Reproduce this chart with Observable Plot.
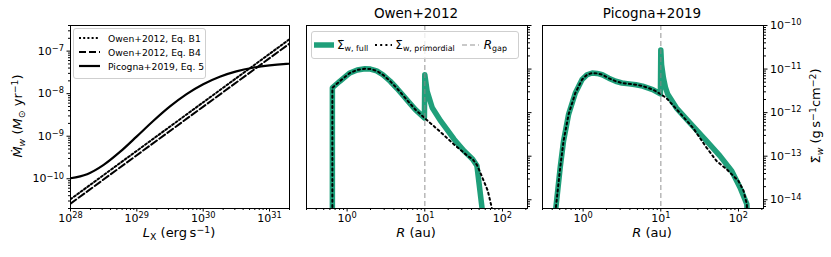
<!DOCTYPE html>
<html><head><meta charset="utf-8">
<script src="https://cdn.jsdelivr.net/npm/d3@7"></script>
<script src="https://cdn.jsdelivr.net/npm/@observablehq/plot@0.6"></script>
<style>
body{margin:0;background:#fff;}
#c{position:relative;width:831px;height:257px;font-family:"DejaVu Sans",sans-serif;color:#000;overflow:hidden;}
.p{position:absolute;top:0;}
.lbl{position:absolute;white-space:nowrap;font-size:13px;transform:translate(-50%,-50%);}
.rot{transform:translate(-50%,-50%) rotate(-90deg);}
.sub{font-size:72%;position:relative;top:0.3em;}
.sup{font-size:72%;position:relative;top:-0.45em;}
.leg{position:absolute;background:rgba(255,255,255,0.8);border:1px solid #cfcfcf;border-radius:3px;box-sizing:border-box;font-size:9.2px;}
.row{display:flex;align-items:center;white-space:nowrap;}
.row svg{flex:none;}
</style></head><body><div id="c"></div>
<script>
// ---------- data: panel 1 (mass-loss rate vs X-ray luminosity) ----------
const lxOwen = [1e28, 2e31];
const mdotOwenB1 = [3.3e-11, 1.9e-7];
const mdotOwenB4 = [2.6e-11, 1.5e-7];
const lxPicogna = [1e28, 1.78e28, 3.16e28, 5.62e28, 1e29, 1.78e29, 3.16e29, 5.62e29, 1e30, 1.78e30, 3.16e30, 5.62e30, 1e31, 1.78e31, 2e31];
const mdotPicogna = [1.03e-10, 1.28e-10, 2.12e-10, 4.33e-10, 9.93e-10, 2.31e-9, 5.02e-9, 9.77e-9, 1.67e-8, 2.51e-8, 3.35e-8, 4.07e-8, 4.62e-8, 5.0e-8, 5.06e-8];

// ---------- data: panel 2 (Owen+2012 surface mass-loss profile) ----------
const rOwenFull = [0.646, 0.646, 0.804, 1.084, 1.349, 1.698, 1.995, 2.399, 2.884, 3.589, 4.365, 5.333, 6.31, 7.568, 9.886, 10, 10.72, 12.47, 16.0, 23.8, 32.1, 41.3, 46.9, 50.1, 54.5, 56.2];
const sOwenFull = [1e-15, 3.72e-12, 5.25e-12, 8.13e-12, 9.55e-12, 1.02e-11, 1.0e-11, 9.12e-12, 7.41e-12, 5.25e-12, 3.63e-12, 2.40e-12, 1.70e-12, 1.17e-12, 7.59e-13, 7.41e-12, 3.09e-12, 1.29e-12, 6.46e-13, 2.45e-13, 1.32e-13, 8.51e-14, 6.03e-14, 2.29e-14, 6.61e-15, 1e-15];
const rOwenPrim = [0.646, 0.646, 0.804, 1.084, 1.349, 1.698, 1.995, 2.399, 2.884, 3.589, 4.365, 5.333, 6.31, 7.568, 9.886, 10, 14.5, 23.8, 35.5, 41.3, 46.9, 52.8, 64.6, 72.8, 75.9];
const sOwenPrim = [1e-15, 3.72e-12, 5.25e-12, 8.13e-12, 9.55e-12, 1.02e-11, 1.0e-11, 9.12e-12, 7.41e-12, 5.25e-12, 3.63e-12, 2.40e-12, 1.70e-12, 1.17e-12, 7.59e-13, 7.41e-13, 4.17e-13, 1.86e-13, 1.02e-13, 8.51e-14, 6.31e-14, 3.89e-14, 1.62e-14, 6.61e-15, 1e-15];

// ---------- data: panel 3 (Picogna+2019 surface mass-loss profile) ----------
const rPicFull = [0.437, 0.446, 0.507, 0.560, 0.650, 0.794, 0.970, 1.122, 1.309, 1.514, 1.766, 2.138, 2.630, 3.162, 3.908, 4.786, 5.834, 7.870, 9.886, 10, 10.23, 10.81, 11.48, 12.30, 15.85, 23.55, 38.73, 57.68, 81.85, 104.7, 128.2, 134.9];
const sPicFull = [1e-15, 6.61e-15, 5.50e-14, 2.24e-13, 9.12e-13, 2.82e-12, 5.75e-12, 7.41e-12, 8.13e-12, 7.94e-12, 7.41e-12, 6.17e-12, 5.25e-12, 4.79e-12, 4.57e-12, 4.37e-12, 4.07e-12, 3.39e-12, 2.69e-12, 2.75e-11, 1.26e-11, 6.31e-12, 3.80e-12, 2.63e-12, 1.29e-12, 5.89e-13, 2.24e-13, 1.02e-13, 4.57e-14, 1.91e-14, 7.94e-15, 1e-15];
const rPicPrim = [0.437, 0.446, 0.507, 0.560, 0.650, 0.794, 0.970, 1.122, 1.309, 1.514, 1.766, 2.138, 2.630, 3.162, 3.908, 4.786, 5.834, 7.870, 9.886, 10, 11.72, 17.46, 26.0, 38.73, 52.24, 70.47, 100, 116.1, 128.2, 134.9];
const sPicPrim = [1e-15, 6.61e-15, 5.50e-14, 2.24e-13, 9.12e-13, 2.82e-12, 5.75e-12, 7.41e-12, 8.13e-12, 7.94e-12, 7.41e-12, 6.17e-12, 5.25e-12, 4.79e-12, 4.57e-12, 4.37e-12, 4.07e-12, 3.39e-12, 2.69e-12, 2.63e-12, 2.19e-12, 1.0e-12, 4.47e-13, 1.58e-13, 7.76e-14, 5.01e-14, 2.69e-14, 1.62e-14, 7.94e-15, 1e-15];

const rGap = [10];

// ---------- tick labels ----------
const lxTicks = [1e28, 1e29, 1e30, 1e31];
const mdotTicks = [1e-10, 1e-9, 1e-8, 1e-7];
const rTicks = [1, 10, 100];
const sigmaTicks = [1e-14, 1e-13, 1e-12, 1e-11, 1e-10];

const GREEN = "#1f9f7a";
const FONT = "DejaVu Sans, sans-serif";

function minorTicks(a, b) {
  const out = [];
  for (let e = Math.floor(Math.log10(a)); e <= Math.ceil(Math.log10(b)); e++)
    for (let k = 2; k <= 9; k++) { const v = k * Math.pow(10, e); if (v >= a && v <= b) out.push(v); }
  return out;
}
const expFmt = d => "10^" + Math.round(Math.log10(d));
const blank = () => "";

function fixSup(svg) {
  svg.querySelectorAll("text").forEach(t => {
    const s = t.textContent;
    if (!s.startsWith("10^")) return;
    const e = s.slice(3).replace("-", "\u2212");
    t.textContent = "";
    const ns = "http://www.w3.org/2000/svg";
    const a = document.createElementNS(ns, "tspan"); a.textContent = "10";
    const b = document.createElementNS(ns, "tspan"); b.textContent = e;
    b.setAttribute("dy", "-0.45em"); b.setAttribute("font-size", "0.75em");
    t.appendChild(a); t.appendChild(b);
  });
}

const baseStyle = {fontFamily: FONT, fontSize: "11px", background: "transparent", overflow: "visible", color: "#000"};

// ---------- panel 1 ----------
const xd1 = [1e28, 2e31], yd1 = [2e-11, 4e-7];
const p1 = Plot.plot({
  width: 300, height: 257, marginLeft: 70, marginRight: 11, marginTop: 25, marginBottom: 49,
  style: baseStyle,
  x: {type: "log", domain: xd1},
  y: {type: "log", domain: yd1},
  marks: [
    Plot.line(lxOwen, {x: lxOwen, y: mdotOwenB1, stroke: "#000", strokeWidth: 2, strokeDasharray: "2,2.2", clip: true}),
    Plot.line(lxOwen, {x: lxOwen, y: mdotOwenB4, stroke: "#000", strokeWidth: 2, strokeDasharray: "7,3", clip: true}),
    Plot.line(lxPicogna, {x: lxPicogna, y: mdotPicogna, stroke: "#000", strokeWidth: 2.2, curve: "monotone-x", clip: true}),
    Plot.frame({stroke: "#000", strokeWidth: 1}),
    Plot.axisX(lxTicks, {tickSize: 3.5, tickPadding: 2, tickFormat: expFmt, label: null}),
    Plot.axisX(minorTicks(...xd1), {tickSize: 2, tickFormat: blank, label: null}),
    Plot.axisY(mdotTicks, {tickSize: 3.5, tickPadding: 3, tickFormat: expFmt, label: null}),
    Plot.axisY(minorTicks(...yd1), {tickSize: 2, tickFormat: blank, label: null})
  ]
});

// ---------- panels 2 and 3 ----------
const xd2 = [0.3, 210], yd2 = [6.3e-15, 1e-10];
function profilePanel(rFull, sFull, rPrim, sPrim, width, ml, mr, showLabels) {
  return Plot.plot({
    width, height: 257, marginLeft: ml, marginRight: mr, marginTop: 25, marginBottom: 49,
    style: baseStyle,
    x: {type: "log", domain: xd2},
    y: {type: "log", domain: yd2},
    marks: [
      Plot.line(rFull, {x: rFull, y: sFull, stroke: GREEN, strokeWidth: 5.5, strokeLinejoin: "round", clip: true}),
      Plot.line(rPrim, {x: rPrim, y: sPrim, stroke: "#000", strokeWidth: 2, strokeDasharray: "2,3.2", clip: true}),
      Plot.ruleX(rGap, {x: d => d, stroke: "#888", strokeOpacity: 0.6, strokeWidth: 1.5, strokeDasharray: "5,3"}),
      Plot.frame({stroke: "#000", strokeWidth: 1}),
      Plot.axisX(rTicks, {tickSize: 3.5, tickPadding: 2, tickFormat: expFmt, label: null}),
      Plot.axisX(minorTicks(...xd2), {tickSize: 2, tickFormat: blank, label: null}),
      Plot.axisY(sigmaTicks, {anchor: "right", tickSize: 3.5, tickPadding: 3, tickFormat: showLabels ? expFmt : blank, label: null}),
      Plot.axisY(minorTicks(...yd2), {anchor: "right", tickSize: 2, tickFormat: blank, label: null})
    ]
  });
}
const p2 = profilePanel(rOwenFull, sOwenFull, rOwenPrim, sOwenPrim, 250, 16, 13, false);
const p3 = profilePanel(rPicFull, sPicFull, rPicPrim, sPicPrim, 291, 2, 68, true);

const c = document.getElementById("c");
[[p1, 0], [p2, 290], [p3, 540]].forEach(([p, left]) => {
  p.classList.add("p"); p.style.left = left + "px"; fixSup(p); c.appendChild(p);
});

function addHTML(html) { c.insertAdjacentHTML("beforeend", html); }
// axis labels and titles
addHTML(`<div class="lbl rot" style="left:17px;top:116px;"><i>Ṁ</i><span class="sub"><i>w</i></span> (<i>M</i><span class="sub">⊙</span> yr<span class="sup">−1</span>)</div>`);
addHTML(`<div class="lbl" style="left:179px;top:232px;"><i>L</i><span class="sub">X</span> (erg&#8201;s<span class="sup">−1</span>)</div>`);
addHTML(`<div class="lbl" style="left:416px;top:232px;"><i>R</i> (au)</div>`);
addHTML(`<div class="lbl" style="left:652px;top:232px;"><i>R</i> (au)</div>`);
addHTML(`<div class="lbl" style="left:416px;top:13px;font-size:13.5px;">Owen+2012</div>`);
addHTML(`<div class="lbl" style="left:652px;top:13px;font-size:13.5px;">Picogna+2019</div>`);
addHTML(`<div class="lbl rot" style="left:815px;top:116px;">Σ̇<span class="sub"><i>w</i></span> (g&#8201;s<span class="sup">−1</span>cm<span class="sup">−2</span>)</div>`);

// legend panel 1
const sample = (dash, w, col, len) => `<svg width="${len}" height="8"><line x1="0" y1="4" x2="${len}" y2="4" stroke="${col}" stroke-width="${w}" ${dash ? `stroke-dasharray="${dash}"` : ""}/></svg>`;
addHTML(`<div class="leg" style="left:73px;top:28px;width:133px;height:51px;padding:2px 0 0 5px;">
<div class="row" style="height:14px;">${sample("2,2.2", 2, "#000", 21)}<span style="margin-left:8px;">Owen+2012, Eq. B1</span></div>
<div class="row" style="height:14px;">${sample("7,3", 2, "#000", 21)}<span style="margin-left:8px;">Owen+2012, Eq. B4</span></div>
<div class="row" style="height:14px;">${sample("", 2.2, "#000", 21)}<span style="margin-left:8px;">Picogna+2019, Eq. 5</span></div>
</div>`);
// legend panel 2
addHTML(`<div class="leg" style="left:311px;top:31px;width:208px;height:28px;padding:0 0 0 2px;display:flex;align-items:center;font-size:12px;">
<div class="row">${sample("", 5.5, GREEN, 20)}<span style="margin-left:3px;">Σ̇<span class="sub" style="font-size:66%">w, full</span></span></div>
<div class="row" style="margin-left:7px;">${sample("2,3.2", 2, "#000", 17)}<span style="margin-left:3px;">Σ̇<span class="sub" style="font-size:66%">w, primordial</span></span></div>
<div class="row" style="margin-left:7px;">${sample("5,3", 1.5, "rgba(136,136,136,0.6)", 17)}<span style="margin-left:5px;"><i>R</i><span class="sub" style="font-size:66%">gap</span></span></div>
</div>`);
</script></body></html>
